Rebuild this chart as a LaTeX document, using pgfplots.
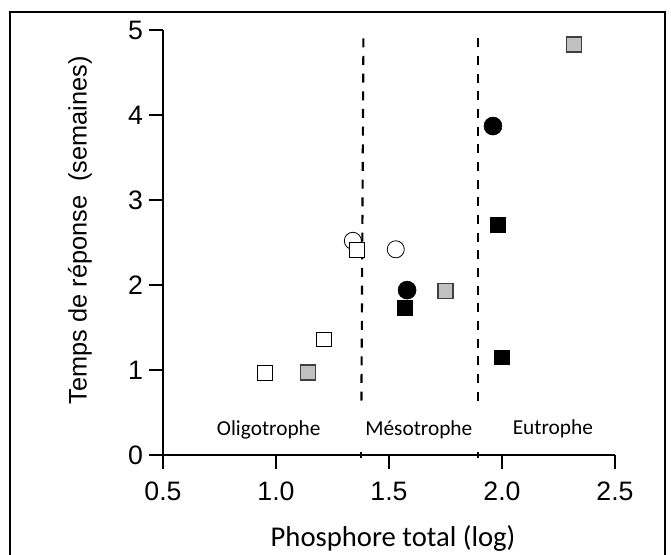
\documentclass[border=0pt]{standalone}
\usepackage{pgfplots}
\pgfplotsset{compat=1.18}
\usepackage{fontspec}
\setmainfont{Liberation Sans}
\newfontfamily\calibri{Carlito}
\definecolor{grayfill}{HTML}{C0C0C0}
\definecolor{grayedge}{HTML}{404040}
\begin{document}
\begin{tikzpicture}
\begin{axis}[
  at={(0,0)}, anchor=south west,
  scale only axis, width=339pt, height=318.75pt,
  xmin=0.5, xmax=2.5, ymin=0, ymax=5,
  clip=false,
  axis x line=bottom, axis y line=left,
  axis line style={-, line width=0.8pt, black},
  tick style={line width=0.8pt, black},
  tick align=outside, major tick length=10.5pt,
  xtick={0.5,1.0,1.5,2.0,2.5},
  xticklabels={0.5,1.0,1.5,2.0,2.5},
  ytick={0,1,2,3,4,5},
  /pgf/number format/assume math mode=true,
  ticklabel style={font=\fontsize{20}{24}\selectfont},
  xticklabel style={yshift=-6pt},
  yticklabel style={xshift=-1pt},
  xlabel={\calibri Phosphore total (log)},
  xlabel style={font=\fontsize{21.5}{25}\selectfont, at={(axis description cs:0.509,-0.197)}, anchor=center},
  ylabel={Temps de réponse\ \ (semaines)},
  ylabel style={font=\fontsize{19}{23}\selectfont, at={(axis description cs:-0.184,0.529)}, anchor=center, rotate=0},
]
% dashed boundaries
\addplot[black, line width=1.6pt, dash pattern=on 6.75pt off 6.5pt] coordinates {(1.378,0.64) (1.387,4.98)};
\addplot[black, line width=1.6pt] coordinates {(1.378,-0.04) (1.378,0.04)};
\addplot[black, line width=1.6pt, dash pattern=on 6.75pt off 6.5pt] coordinates {(1.893,0.64) (1.893,4.98)};
\addplot[black, line width=1.6pt] coordinates {(1.893,-0.04) (1.893,0.04)};
% open circles
\addplot[only marks, mark=o, mark size=6.4pt, mark options={draw=black, line width=0.6pt}] coordinates {(1.34,2.52) (1.53,2.42)};
% open squares
\addplot[only marks, mark=square*, mark size=5.6pt, mark options={fill=white, draw=black, line width=0.6pt}] coordinates {(0.95,0.97) (1.21,1.36) (1.36,2.41)};
% gray squares
\addplot[only marks, mark=square*, mark size=5.6pt, mark options={fill=grayfill, draw=grayedge, line width=0.9pt}] coordinates {(1.14,0.97) (1.75,1.93) (2.32,4.83)};
% black squares
\addplot[only marks, mark=square*, mark size=5.6pt, mark options={fill=black, draw=black}] coordinates {(1.57,1.73) (1.98,2.71) (2.00,1.15)};
% black circles
\addplot[only marks, mark=*, mark size=6.75pt, mark options={fill=black, draw=black}] coordinates {(1.58,1.94) (1.96,3.87)};
% region labels
\node[font=\calibri\fontsize{16}{19}\selectfont] at (axis cs:0.968,0.30) {Oligotrophe};
\node[font=\calibri\fontsize{16}{19}\selectfont] at (axis cs:1.632,0.30) {Mésotrophe};
\node[font=\calibri\fontsize{16}{19}\selectfont] at (axis cs:2.225,0.31) {Eutrophe};
\end{axis}
\draw[line width=1.5pt, black] (-115.1pt,-90pt) -- (-115.1pt,332.25pt) -- (376.5pt,332.25pt) -- (376.5pt,-90pt);
\pgfresetboundingbox
\useasboundingbox (-122.25pt,-74.25pt) rectangle (381pt,341.25pt);
\end{tikzpicture}
\end{document}
